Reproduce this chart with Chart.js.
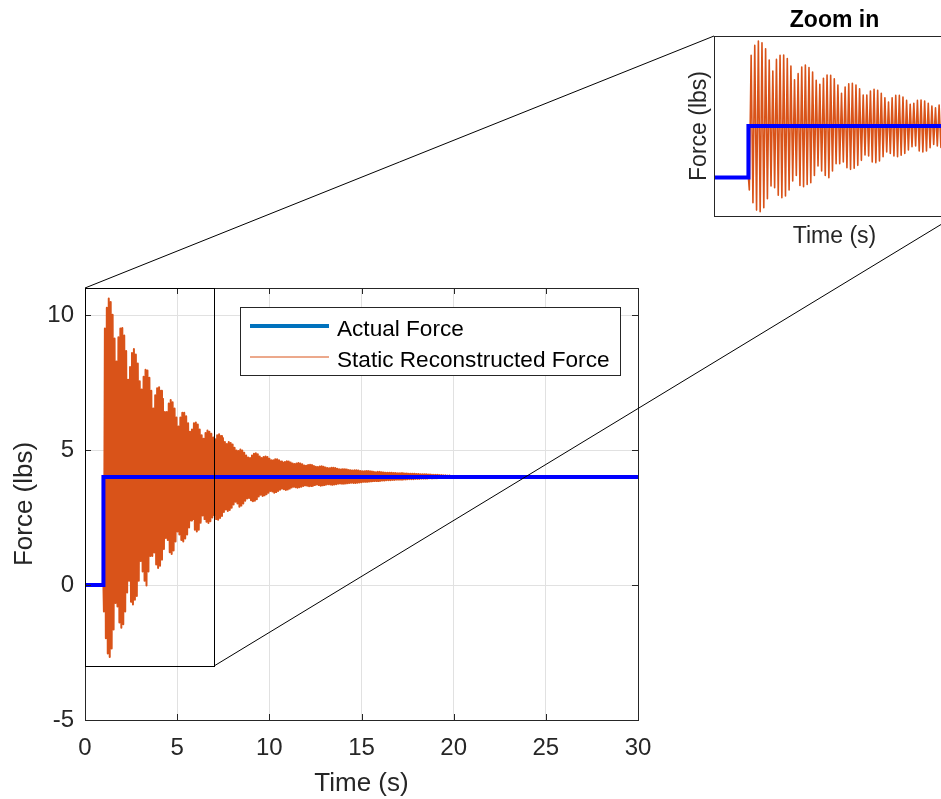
<!DOCTYPE html>
<html>
<head>
<meta charset="utf-8">
<script src="https://cdn.jsdelivr.net/npm/chart.js@4.4.1/dist/chart.umd.min.js"></script>
<style>
  html, body { margin: 0; padding: 0; background: #fff; overflow: hidden; }
  #wrap { position: relative; width: 941px; height: 799px; overflow: hidden; }
  #mainChart { position: absolute; left: 0; top: 0; }
  #zoomChart { position: absolute; left: 640px; top: 0; }
  #links { position: absolute; left: 0; top: 0; pointer-events: none; }
</style>
</head>
<body>
<div id="wrap">
  <canvas id="mainChart" width="941" height="799"></canvas>
  <canvas id="zoomChart" width="360" height="260"></canvas>
  <canvas id="links" width="941" height="799"></canvas>
</div>
<script>
// Actual force: 4 lb step at t = 1 s
const actualTime = [0, 1, 1, 30];
const actualForce = [0, 0, 4, 4];

// Static reconstruction rings after the step: one trough and one crest per cycle
const ringStart = 1.0;     // s
const ringPeriod = 0.105;  // s
const settledForce = 4;
const endTime = 30;

const ringTroughs = [
  -0.98, -1.97, -2.54, -2.67, -2.35, -1.65, -0.67, -0.80, -1.39, -1.58, -1.45, -0.98, -0.28, 0.16, -0.62, -0.72, -0.55,
  -0.41, 0.16, 0.89, 0.50, 0.16, -0.02, 0.50, 1.07, 1.07, 1.20, 0.76, 0.63, 0.71, 0.94, 1.33, 1.74, 1.67, 1.21,
  1.15, 1.28, 1.61, 1.98, 1.87, 1.67, 1.61, 1.72, 1.87, 2.13, 2.39, 2.44, 2.05, 1.98, 2.05, 2.31, 2.57, 2.44,
  2.34, 2.30, 2.36, 2.50, 2.58, 2.44,
  2.42, 2.48, 2.56, 2.70, 2.80, 2.74,
  2.78, 2.86, 2.98, 3.08, 3.02, 2.90,
  2.94, 3.02, 3.12, 3.20, 3.22, 3.14,
  3.10, 3.12, 3.18, 3.28, 3.34, 3.30,
  3.32, 3.36, 3.42, 3.48, 3.46, 3.42,
  3.44, 3.48, 3.53, 3.57, 3.55, 3.52,
  3.54, 3.57, 3.61, 3.64, 3.62, 3.60,
  3.62, 3.64, 3.67, 3.69, 3.68, 3.66,
  3.67, 3.68, 3.70, 3.72, 3.70, 3.68,
  3.69, 3.70, 3.72, 3.73, 3.72, 3.71,
  3.72, 3.73, 3.75, 3.76, 3.75, 3.75,
  3.76, 3.77, 3.78, 3.79, 3.78, 3.78,
  3.79, 3.80, 3.81, 3.82, 3.82, 3.82,
  3.83, 3.84, 3.85, 3.85, 3.85, 3.85,
  3.86, 3.87, 3.87, 3.88, 3.88, 3.88,
  3.89, 3.89, 3.90, 3.90, 3.90, 3.90,
  3.91, 3.91, 3.92, 3.92, 3.92, 3.92,
  3.93, 3.93, 3.93, 3.94, 3.94, 3.94,
  3.94, 3.95, 3.95, 3.95, 3.95, 3.95,
  3.96, 3.96, 3.96, 3.96, 3.97, 3.97
];

const ringCrests = [
  9.50, 10.27, 10.61, 10.48, 10.01, 9.13, 8.28, 9.18, 9.50, 9.52, 9.24, 8.67, 7.60, 8.07, 8.59, 8.74, 8.54,
  8.20, 7.55, 7.24, 7.71, 7.97, 7.94, 7.68, 7.19, 6.54, 7.03, 7.29, 7.32, 7.19, 6.90, 6.41, 6.41, 6.72, 6.85,
  6.77, 6.54, 6.20, 5.87, 6.20, 6.38, 6.38, 6.25, 5.99, 5.68, 5.76, 5.99, 6.02, 5.94, 5.76, 5.55, 5.42, 5.63,
  5.72, 5.68, 5.60, 5.46, 5.40, 5.55,
  5.58, 5.52, 5.44, 5.30, 5.22, 5.30,
  5.26, 5.20, 5.08, 4.98, 4.96, 5.02,
  4.98, 4.90, 4.80, 4.72, 4.70, 4.80,
  4.86, 4.88, 4.84, 4.76, 4.70, 4.74,
  4.76, 4.74, 4.68, 4.62, 4.62, 4.66,
  4.66, 4.62, 4.57, 4.54, 4.56, 4.58,
  4.57, 4.54, 4.50, 4.48, 4.50, 4.52,
  4.50, 4.47, 4.43, 4.42, 4.44, 4.45,
  4.44, 4.41, 4.38, 4.37, 4.39, 4.40,
  4.38, 4.35, 4.33, 4.32, 4.34, 4.34,
  4.33, 4.31, 4.29, 4.28, 4.29, 4.29,
  4.28, 4.26, 4.25, 4.24, 4.25, 4.25,
  4.24, 4.22, 4.21, 4.21, 4.22, 4.22,
  4.21, 4.20, 4.19, 4.18, 4.19, 4.19,
  4.18, 4.17, 4.16, 4.16, 4.16, 4.16,
  4.15, 4.15, 4.14, 4.14, 4.14, 4.14,
  4.13, 4.13, 4.12, 4.12, 4.12, 4.12,
  4.11, 4.11, 4.10, 4.10, 4.10, 4.10,
  4.09, 4.09, 4.08, 4.08, 4.08, 4.08,
  4.07, 4.07, 4.06, 4.06, 4.05, 4.05
];

// Axis limits and ticks
const mainTime = [0, 30];
const mainForce = [-5, 11];
const tickStep = 5;
// Window shown enlarged in the inset
const zoomTime = [0, 7];
const zoomForce = [-3, 11];

const seriesLabels = ['Actual Force', 'Static Reconstructed Force'];

const INK = '#262626';
const GRID = '#e1e1e1';
const BLUE = '#0000ff';
const BLUE_KEY = '#0072bd';
const ORANGE = '#d95319';
const FONT = "'Liberation Sans', Arial, Helvetica, sans-serif";

Chart.defaults.font.family = FONT;
Chart.defaults.color = INK;

const actualPoints = actualTime.map((t, i) => ({ x: t, y: actualForce[i] }));

const reconPoints = [{ x: 0, y: 0 }, { x: ringStart, y: 0 }];
ringTroughs.forEach((lo, i) => {
  const t0 = ringStart + i * ringPeriod;
  reconPoints.push({ x: t0 + ringPeriod * 0.25, y: lo });
  reconPoints.push({ x: t0 + ringPeriod * 0.75, y: ringCrests[i] });
});
reconPoints.push({ x: ringStart + ringTroughs.length * ringPeriod, y: settledForce });
reconPoints.push({ x: endTime, y: settledForce });

// The ringing is drawn a little heavier on the full-range axes so the
// packed cycles read as a filled band there. Round joins keep the sharp
// turns from growing miter spikes.
function makeDatasets(reconWidth) {
  return [
    {
      label: seriesLabels[0],
      data: actualPoints,
      borderColor: BLUE,
      borderWidth: 4,
      pointRadius: 0,
      tension: 0,
      borderJoinStyle: 'miter'
    },
    {
      label: seriesLabels[1],
      data: reconPoints,
      borderColor: ORANGE,
      borderWidth: reconWidth,
      borderJoinStyle: 'round',
      pointRadius: 0,
      tension: 0
    }
  ];
}

const px = v => Math.round(v) + 0.5;

// Box round the plot area, with short inward tick marks
const frame = {
  id: 'frame',
  afterDraw(chart, args, opts) {
    const { ctx, chartArea: a } = chart;
    ctx.save();
    ctx.strokeStyle = INK;
    ctx.lineWidth = 1;
    ctx.strokeRect(px(a.left), px(a.top), Math.round(a.right) - Math.round(a.left), Math.round(a.bottom) - Math.round(a.top));
    if (opts.ticks) {
      const len = 6;
      ctx.beginPath();
      chart.scales.x.ticks.forEach(t => {
        const x = px(chart.scales.x.getPixelForValue(t.value));
        ctx.moveTo(x, a.bottom); ctx.lineTo(x, a.bottom - len);
        ctx.moveTo(x, a.top); ctx.lineTo(x, a.top + len);
      });
      chart.scales.y.ticks.forEach(t => {
        const y = px(chart.scales.y.getPixelForValue(t.value));
        ctx.moveTo(a.left, y); ctx.lineTo(a.left + len, y);
        ctx.moveTo(a.right, y); ctx.lineTo(a.right - len, y);
      });
      ctx.stroke();
    }
    ctx.restore();
  }
};

// Rectangle marking the enlarged window
const zoomBox = {
  id: 'zoomBox',
  afterDraw(chart) {
    const { ctx, scales: { x, y } } = chart;
    const x0 = px(x.getPixelForValue(zoomTime[0])), x1 = px(x.getPixelForValue(zoomTime[1]));
    const y0 = px(y.getPixelForValue(zoomForce[1])), y1 = px(y.getPixelForValue(zoomForce[0]));
    ctx.save();
    ctx.strokeStyle = '#000';
    ctx.lineWidth = 1;
    ctx.strokeRect(x0, y0, x1 - x0, y1 - y0);
    ctx.restore();
  }
};

// Boxed legend in the upper right of the plot area
const lineKey = {
  id: 'lineKey',
  afterDraw(chart) {
    const { ctx, chartArea: a } = chart;
    const keyColors = [BLUE_KEY, ORANGE];
    const keyWidths = [4, 1];
    ctx.save();
    ctx.font = '22.6px ' + FONT;
    const textW = Math.max(...seriesLabels.map(s => ctx.measureText(s).width));
    const sampleLen = 79, padL = 10, gap = 8, padR = 11, rowH = 31;
    const w = Math.round(padL + sampleLen + gap + textW + padR);
    const h = 68;
    const right = Math.round(a.right) - 18;
    const left = right - w;
    const top = Math.round(a.top) + 19;
    ctx.fillStyle = '#fff';
    ctx.fillRect(left, top, w, h);
    ctx.strokeStyle = INK;
    ctx.lineWidth = 1;
    ctx.strokeRect(left + 0.5, top + 0.5, w, h);
    seriesLabels.forEach((label, i) => {
      const y = top + 19 + i * rowH;
      ctx.beginPath();
      ctx.strokeStyle = keyColors[i];
      ctx.lineWidth = keyWidths[i];
      ctx.moveTo(left + padL, y);
      ctx.lineTo(left + padL + sampleLen, y);
      ctx.stroke();
      ctx.fillStyle = '#000';
      ctx.textBaseline = 'alphabetic';
      ctx.fillText(label, left + padL + sampleLen + gap, y + 10);
    });
    ctx.restore();
  }
};

const mainChart = new Chart(document.getElementById('mainChart'), {
  type: 'line',
  data: { datasets: makeDatasets(2) },
  options: {
    responsive: false,
    animation: false,
    events: [],
    layout: { padding: { left: 0, top: 288, right: 303, bottom: 0 } },
    plugins: {
      legend: { display: false },
      tooltip: { enabled: false },
      frame: { ticks: true }
    },
    scales: {
      x: {
        type: 'linear',
        min: mainTime[0],
        max: mainTime[1],
        afterFit(scale) { scale.height = 79; },
        ticks: { stepSize: tickStep, padding: 14, font: { size: 24 }, color: INK, maxRotation: 0 },
        grid: { color: GRID, drawTicks: false },
        border: { display: false },
        title: { display: true, text: 'Time (s)', font: { size: 26 }, color: INK, padding: { top: 0, bottom: 0 } }
      },
      y: {
        type: 'linear',
        min: mainForce[0],
        max: mainForce[1],
        afterFit(scale) { scale.width = 85; },
        ticks: { stepSize: tickStep, includeBounds: false, padding: 11, font: { size: 24 }, color: INK },
        grid: { color: GRID, drawTicks: false },
        border: { display: false },
        title: { display: true, text: 'Force (lbs)', font: { size: 26 }, color: INK, padding: { top: 9, bottom: 0 } }
      }
    }
  },
  plugins: [frame, zoomBox, lineKey]
});

const zoomChart = new Chart(document.getElementById('zoomChart'), {
  type: 'line',
  data: { datasets: makeDatasets(1.6) },
  options: {
    responsive: false,
    animation: false,
    events: [],
    layout: { padding: { left: 0, top: 0, right: 45, bottom: 0 } },
    plugins: {
      legend: { display: false },
      tooltip: { enabled: false },
      frame: { ticks: false },
      title: {
        display: true,
        text: 'Zoom in',
        fullSize: false,
        color: '#000',
        font: { size: 23, weight: 'bold' },
        padding: { top: 7, bottom: 1.4 }
      }
    },
    scales: {
      x: {
        type: 'linear',
        min: zoomTime[0],
        max: zoomTime[1],
        afterFit(scale) { scale.height = 44; },
        ticks: { display: false },
        grid: { display: false, drawTicks: false },
        border: { display: false },
        title: { display: true, text: 'Time (s)', font: { size: 23 }, color: INK, padding: { top: 0, bottom: 10 } }
      },
      y: {
        type: 'linear',
        min: zoomForce[0],
        max: zoomForce[1],
        afterFit(scale) { scale.width = 74; },
        ticks: { display: false },
        grid: { display: false, drawTicks: false },
        border: { display: false },
        title: { display: true, text: 'Force (lbs)', font: { size: 23 }, color: INK, padding: { top: 46, bottom: 0 } }
      }
    }
  },
  plugins: [frame]
});

// Lines joining the marked window to the inset corners
(function drawLinks() {
  const canvas = document.getElementById('links');
  const ctx = canvas.getContext('2d');
  const zc = document.getElementById('zoomChart');
  const offX = zc.offsetLeft, offY = zc.offsetTop;
  const { x, y } = mainChart.scales;
  const za = zoomChart.chartArea;
  ctx.strokeStyle = '#000';
  ctx.lineWidth = 1;
  ctx.beginPath();
  ctx.moveTo(x.getPixelForValue(zoomTime[0]), y.getPixelForValue(zoomForce[1]));
  ctx.lineTo(offX + za.left, offY + za.top);
  ctx.moveTo(x.getPixelForValue(zoomTime[1]), y.getPixelForValue(zoomForce[0]));
  ctx.lineTo(offX + za.right, offY + za.bottom);
  ctx.stroke();
})();
</script>
</body>
</html>
